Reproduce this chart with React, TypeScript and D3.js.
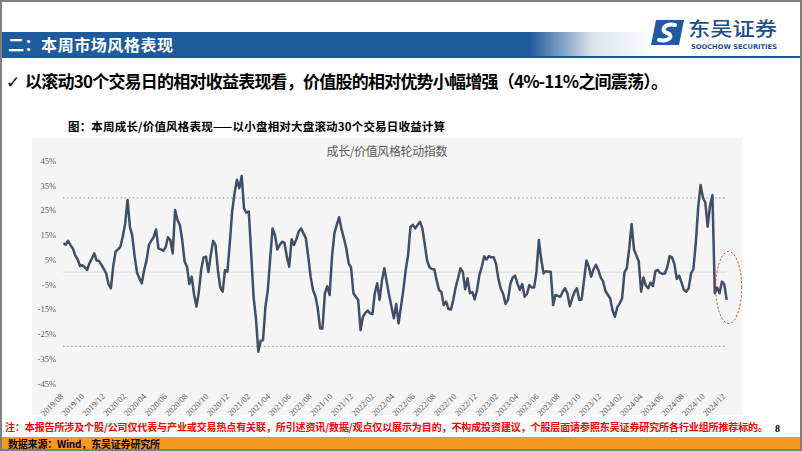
import React from 'react';
import * as d3 from 'd3';

// ---- data ----
const headerTitle = '二：本周市场风格表现';
const bulletText = '以滚动30个交易日的相对收益表现看，价值股的相对优势小幅增强（4%-11%之间震荡）。';
const chartTitle = '图：本周成长/价值风格表现——以小盘相对大盘滚动30个交易日收益计算';
const seriesName = '成长/价值风格轮动指数';
const noteText = '注：本报告所涉及个股/公司仅代表与产业或交易热点有关联，所引述资讯/数据/观点仅以展示为目的，不构成投资建议，个股层面请参照东吴证券研究所各行业组所推荐标的。';
const sourceText = '数据来源：Wind，东吴证券研究所';
const pageNumber = '8';

const firstWeek = '2019-08-02';
// weekly readings of the rotation index, %
const weeklyValues: number[] = [
  11.7, 11.1, 12.7, 10.9, 9.6, 6.8, 5.2, 2.5, 2.8, 2.0,
  0.9, 3.7, 5.5, 7.6, 4.7, 4.5, 3.0, 1.4, -0.5, -4.8,
  -6.5, 2.5, 8.3, 9.2, 10.3, 14.4, 19.5, 29.2, 18.4, 14.6,
  6.3, -0.2, -2.5, -4.5, 0.9, 4.8, 11.0, 12.7, 14.2, 17.3,
  9.6, 9.2, 8.7, 10.0, 14.1, 13.0, 7.6, 25.1, 21.1, 19.1,
  13.0, 4.3, 2.2, -4.8, -1.8, -9.2, -13.9, -7.9, 1.2, 6.0,
  6.3, 0.1, 6.9, 12.6, 11.0, 0.9, -6.2, -7.9, 0.9, 0.2,
  11.7, 24.5, 31.9, 37.3, 33.9, 38.9, 25.8, 24.1, 24.5, 7.6,
  -9.9, -18.6, -32.1, -27.7, -27.4, -13.9, -7.2, 5.6, 17.7, 15.0,
  9.2, 11.0, 12.3, 11.9, 6.3, 2.2, 13.3, 11.0, 13.3, 16.4,
  17.7, 15.7, 13.7, 6.3, -1.8, -7.2, -9.6, -14.6, -22.7, -22.7,
  -8.5, -5.7, -9.2, 6.3, 15.7, 19.1, 22.2, 17.3, 13.7, 9.6,
  3.6, 2.0, -8.5, -9.9, -11.2, -23.4, -18.0, -16.4, -15.5, -16.6,
  -16.9, -8.5, -4.5, -11.2, -3.4, 1.6, -3.8, -9.2, -13.9, -18.6,
  -12.8, -20.7, -13.9, -7.2, 0.9, 6.9, 18.4, 19.1, 17.7, 19.1,
  20.4, 17.7, 11.4, 4.7, 2.0, 1.3, 1.2, -3.2, -7.2, -8.0,
  -13.3, -11.9, -14.9, -15.1, -11.2, -6.2, -2.5, 1.6, 0.2, -6.9,
  -2.5, -8.5, -8.0, -11.0, -7.2, -1.1, 2.2, 6.4, 5.1, 6.5,
  6.0, 6.0, 3.3, -2.9, -6.7, -8.8, -12.8, -11.2, -4.8, -2.1,
  -1.4, -4.6, -7.1, -4.8, -9.9, -8.8, -5.2, -6.2, -6.2, 0.2,
  13.0, 5.1, -0.5, 0.4, 0.2, 0.2, -13.3, -9.2, -9.6, -9.9,
  -7.9, -6.5, -8.5, -13.7, -10.6, -8.0, -6.5, -11.2, -11.0, -3.2,
  4.7, 2.2, -1.8, 1.2, 3.0, 0.9, -2.1, -3.7, -7.6, -9.1,
  -10.6, -15.5, -18.0, -14.1, -12.6, -10.6, -0.1, 1.6, 9.6, 19.5,
  9.2, 6.8, 4.4, -7.9, -2.1, -5.4, -6.5, -4.2, -5.6, 0.4,
  0.9, -0.3, -0.7, -0.5, 2.0, 6.5, 6.0, 3.3, -2.7, -1.4,
  -4.2, -7.1, -7.9, -6.5, -0.5, 1.3, 11.7, 26.1, 35.2, 30.2,
  28.1, 18.4, 26.9, 31.2, -8.5, -6.2, -8.5, -3.8, -5.0, -11.2,
];
const yTickValues = [45, 35, 25, 15, 5, -5, -15, -25, -35, -45];
const bandLevels = [30, -30];
const xTickFirst = '2019-08-01';
const xTickLast = '2024-12-01';
const xTickStepMonths = 2;

const CJK = '"Noto Sans CJK SC", "Noto Sans", sans-serif';
const SERIF = '"Liberation Serif", "DejaVu Serif", serif';

export default function App() {
  const parse = d3.timeParse('%Y-%m-%d');
  const start = parse(firstWeek) as Date;
  const points = weeklyValues.map((v, i) => ({ date: d3.timeDay.offset(start, i * 7), value: v }));

  const plotLeft = 63;
  const plotRight = 725;
  const tickFirst = parse(xTickFirst) as Date;
  const tickLast = parse(xTickLast) as Date;
  const x = d3.scaleTime().domain([tickFirst, tickLast]).range([plotLeft, plotRight]);
  const y = d3.scaleLinear().domain([-45, 45]).range([383.6, 160.8]);
  const lineEnd = x(points[points.length - 1].date);

  const ticks = d3.timeMonth.range(tickFirst, d3.timeDay.offset(tickLast, 1), xTickStepMonths);
  const fmt = d3.timeFormat('%Y/%m');
  const line = d3
    .line<{ date: Date; value: number }>()
    .x((d) => x(d.date))
    .y((d) => y(d.value));

  return (
    <svg
      width={802}
      height={451}
      style={{ position: 'absolute', left: 0, top: 0, background: '#ffffff' }}
    >
      <defs>
        <linearGradient id="hdr" x1="0" y1="0" x2="802" y2="0" gradientUnits="userSpaceOnUse">
          <stop offset="0" stopColor="#1d5b9c" />
          <stop offset="0.66" stopColor="#1d5b9c" />
          <stop offset="0.74" stopColor="#dfe5ed" />
          <stop offset="0.82" stopColor="#ffffff" />
        </linearGradient>
      </defs>
      {/* header */}
      <rect x={0} y={32} width={802} height={25} fill="url(#hdr)" />
      <rect x={0} y={56} width={802} height={2} fill="#1d5b9c" />
      <text x={8} y={51} fontFamily={CJK} fontWeight={700} fontSize={16} fill="#ffffff" textLength={165} lengthAdjust="spacing">
        {headerTitle}
      </text>
      {/* logo */}
      <g>
        <path d="M656,20 L684,20 L679,45 L651,45 Z" fill="#1f5aa0" />
        <path d="M675,25 C664,23 660,31 667,33 C674,35 670,42 659,40" fill="none" stroke="#ffffff" strokeWidth={4} strokeLinecap="round" />
        <text x={688} y={36} fontFamily={CJK} fontWeight={500} fontSize={19} fill="#1f4f8c" textLength={89} lengthAdjust="spacingAndGlyphs">
          东吴证券
        </text>
        <text x={691} y={48.5} fontFamily='"DejaVu Sans", sans-serif' fontWeight={700} fontSize={6.5} fill="#1f4f8c" textLength={86} lengthAdjust="spacingAndGlyphs">
          SOOCHOW SECURITIES
        </text>
      </g>
      {/* bullet line */}
      <text x={6} y={88} fontFamily='"DejaVu Sans", sans-serif' fontSize={17} fill="#000">✓</text>
      <text x={25} y={88} fontFamily={CJK} fontWeight={700} fontSize={17} fill="#000" textLength={643} lengthAdjust="spacing">
        {bulletText}
      </text>
      {/* chart title */}
      <text x={68} y={131} fontFamily={CJK} fontWeight={700} fontSize={11.5} fill="#000" textLength={377} lengthAdjust="spacing">
        {chartTitle}
      </text>
      {/* chart area */}
      <rect x={32} y={138} width={710} height={277} fill="#f5f5f5" />
      <text x={387} y={156} textAnchor="middle" fontFamily={CJK} fontSize={12} fill="#595959" textLength={121} lengthAdjust="spacing">
        {seriesName}
      </text>
      {yTickValues.map((v) => (
        <text key={v} x={56} y={y(v) + 3} textAnchor="end" fontFamily={SERIF} fontSize={8.5} fill="#595959">
          {`${v}%`}
        </text>
      ))}
      <line x1={plotLeft} x2={lineEnd} y1={y(0)} y2={y(0)} stroke="#d9d9d9" strokeWidth={1} />
      {bandLevels.map((b) => (
        <line key={b} x1={plotLeft} x2={lineEnd} y1={y(b)} y2={y(b)} stroke="#a6a6a6" strokeWidth={1.2} strokeDasharray="1.5 2.6" />
      ))}
      <path d={line(points) || ''} fill="none" stroke="#3f4f67" strokeWidth={2.5} strokeLinejoin="round" />
      {ticks.map((t) => (
        <text
          key={+t}
          transform={`translate(${x(t) + 1},397) rotate(-45)`}
          textAnchor="end"
          fontFamily={SERIF}
          fontSize={8.5}
          fill="#595959"
        >
          {fmt(t)}
        </text>
      ))}
      <ellipse cx={728.7} cy={287.5} rx={13} ry={36} fill="none" stroke="#e0261f" strokeWidth={1} strokeDasharray="2 2" />
      {/* footer */}
      <text x={5} y={431} fontFamily={CJK} fontWeight={700} fontSize={10} fill="#ff0000" textLength={763} lengthAdjust="spacing">
        {noteText}
      </text>
      <text x={775} y={432} fontFamily={SERIF} fontWeight={700} fontSize={10} fill="#000">{pageNumber}</text>
      <rect x={0} y={437} width={802} height={14} fill="#f7981f" />
      <text x={8} y={448} fontFamily={CJK} fontWeight={700} fontSize={10} fill="#000" textLength={152} lengthAdjust="spacing">
        {sourceText}
      </text>
      <rect x={1} y={1} width={800} height={449} fill="none" stroke="#7f7f7f" strokeWidth={2} />
    </svg>
  );
}
